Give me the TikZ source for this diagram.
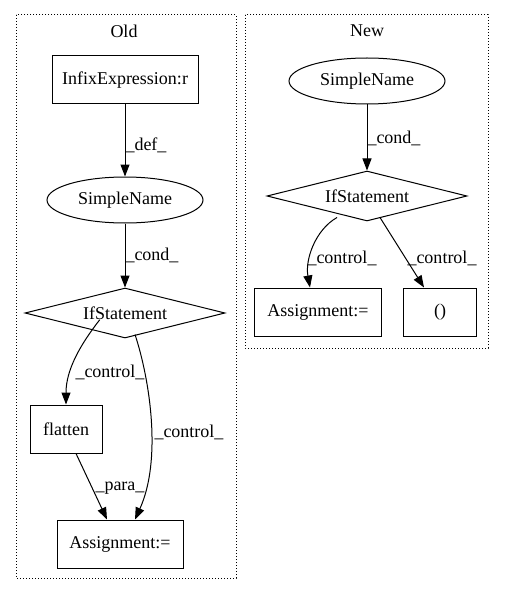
\documentclass[tikz,border=0pt]{standalone}
\usepackage{fontspec}
\setmainfont{Liberation Serif}
\usetikzlibrary{shapes.geometric,arrows.meta}

\newcommand\gvfont{\fontsize{18}{20}\selectfont}
\tikzset{
  every node/.style={font=\gvfont},
  box/.style={draw, rectangle, minimum height=48pt, inner sep=0pt},
  oval/.style={draw, ellipse, minimum width=156pt, minimum height=46pt, inner sep=0pt},
  cond/.style={draw, diamond, aspect=4, minimum width=200pt, minimum height=50pt, inner sep=0pt},
  lbl/.style={inner sep=0pt, anchor=west},
  arr/.style={-{Triangle[length=12pt,width=9pt]}},
  cluster/.style={draw, dotted, line width=1pt}
}

\begin{document}
\begin{tikzpicture}[x=1pt, y=-1pt, line width=1pt]
\useasboundingbox (0,0) rectangle (504,596);
\draw [cluster] (16,15) rectangle (236,578);
\draw [cluster] (245,15) rectangle (488,348);
\node (oldtitle) at (124,31) {Old};
\node (newtitle) at (367,31) {New};
% old
\node [box, minimum width=146pt] (infix) at (125,80) {InfixExpression:r};
\node [oval] (oldname) at (125,200) {SimpleName};
\node [cond] (oldif) at (125,313) {IfStatement};
\node [box, minimum width=72pt] (flatten) at (66,429) {flatten};
\node [box, minimum width=126pt] (oldassign) at (120,544) {Assignment:=};
\draw [arr] (infix) -- (oldname);
\draw [arr] (oldname) -- (oldif);
\draw [arr] (oldif.south west) ++(25,-6) .. controls (80,345) and (66,370) .. (flatten.north);
\draw [arr] (oldif.south) ++(10,-4) .. controls (150,380) and (162,460) .. (oldassign.north -| 135,0);
\draw [arr] (flatten.south) ++(10,0) -- (oldassign.north -| 107,0);
\node [lbl] (ldef) at (125,145) {\_def\_};
\node [lbl] (lcond) at (125,255) {\_cond\_};
\node [lbl] (lctrl1) at (75,372) {\_control\_};
\node [lbl] (lctrl2) at (154,432) {\_control\_};
\node [lbl] (lpara) at (95,488) {\_para\_};
% new
\node [oval] (newname) at (367,81) {SimpleName};
\node [cond] (newif) at (367,196) {IfStatement};
\node [box, minimum width=127pt] (newassign) at (318,312) {Assignment:=};
\node [box, minimum width=73pt] (paren) at (440,312) {()};
\draw [arr] (newname) -- (newif);
\draw [arr] (newif.south) ++(-30,-4) .. controls (315,230) and (305,260) .. (newassign.north -| 310,0);
\draw [arr] (newif.south) ++(13,-4) -- (paren.north -| 424,0);
\node [lbl] (ncond) at (367,138) {\_cond\_};
\node [lbl] (nctrl1) at (307,258) {\_control\_};
\node [lbl] (nctrl2) at (407,258) {\_control\_};
\end{tikzpicture}
\end{document}
